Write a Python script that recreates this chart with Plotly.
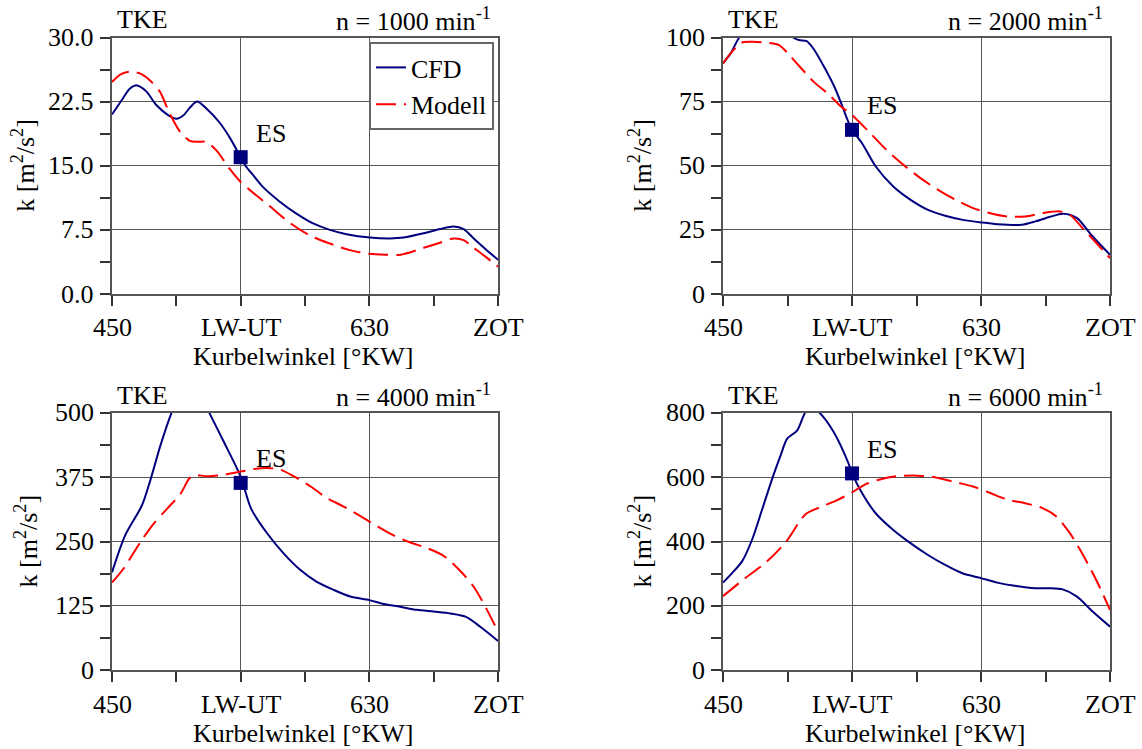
import plotly.graph_objects as go

# ---------------- data ----------------
x_tickvals = [450, 540, 630, 720]
x_ticktext = ["450", "LW-UT", "630", "ZOT"]
x_minorvals = [495, 585, 675]

speeds = ["1000", "2000", "4000", "6000"]

y_tickvals = [[0, 7.5, 15, 22.5, 30], [0, 25, 50, 75, 100], [0, 125, 250, 375, 500], [0, 200, 400, 600, 800]]
y_ticktext = [["0.0", "7.5", "15.0", "22.5", "30.0"], ["0", "25", "50", "75", "100"],
              ["0", "125", "250", "375", "500"], ["0", "200", "400", "600", "800"]]
y_minorvals = [[3.75, 11.25, 18.75, 26.25], [12.5, 37.5, 62.5, 87.5],
               [62.5, 187.5, 312.5, 437.5], [100, 300, 500, 700]]

cfd_1000_x = [450, 457.7, 462.4, 467.5, 474, 481, 489.5, 495, 500, 505, 509.6, 516, 525.5, 532.7, 540, 544, 549, 555.7, 567.4, 579, 590.7, 602.4, 614, 630.5, 644.5, 654, 668, 679.5, 689, 696, 703, 711, 720]
cfd_1000_y = [21.0, 22.9, 24.0, 24.4, 23.7, 22.1, 20.9, 20.5, 20.9, 21.9, 22.5, 21.7, 20.0, 18.2, 16.0, 14.85, 13.85, 12.5, 10.8, 9.4, 8.25, 7.5, 7.0, 6.6, 6.5, 6.6, 7.1, 7.6, 7.9, 7.6, 6.5, 5.3, 4.0]
mod_1000_x = [450, 456, 462.4, 469.5, 476.4, 483.4, 490.4, 497.5, 504.5, 510, 516, 523, 532.5, 540, 549, 560.8, 574.9, 588.9, 602.4, 617, 630, 642, 652, 668, 679.5, 689, 696, 703, 711, 720]
mod_1000_y = [24.8, 25.7, 26.0, 25.8, 25.0, 23.7, 21.1, 19.0, 17.9, 17.8, 17.8, 16.8, 14.6, 13.1, 11.8, 10.2, 8.25, 6.8, 5.9, 5.1, 4.7, 4.6, 4.6, 5.4, 6.0, 6.5, 6.3, 5.4, 4.4, 3.2]

cfd_2000_x = [450, 455.3, 461.4, 470, 480, 490, 499, 503, 508.4, 513, 520.5, 527.7, 532.5, 536, 540, 547, 556.6, 568.8, 580.9, 593, 605, 617.3, 630, 641.4, 658.4, 668, 677.7, 687.4, 697, 706.8, 720]
cfd_2000_y = [89.9, 93.8, 100, 105, 107, 105, 100, 99.0, 98.6, 95.7, 88.6, 80.8, 74.3, 69.1, 64.0, 58.8, 49.7, 41.9, 36.7, 32.8, 30.5, 28.9, 27.9, 27.2, 27.0, 28.3, 30.0, 31.3, 29.6, 23.1, 15.3]
mod_2000_x = [450, 455.3, 462.6, 469.8, 481.9, 489.1, 496.4, 503.6, 513.3, 523, 532.5, 540, 551.7, 564, 576, 588, 600, 612.4, 624.4, 636.5, 648.6, 660.7, 672.8, 685, 692, 701.9, 711.6, 720]
mod_2000_y = [89.9, 93.8, 97.9, 98.3, 97.9, 97.0, 93.1, 88.6, 82.7, 78.2, 73.0, 69.8, 63.3, 56.2, 50.3, 45.1, 40.6, 36.7, 33.5, 31.5, 30.2, 30.2, 31.5, 32.2, 30.9, 25.0, 19.2, 14.0]

cfd_4000_x = [450, 459.2, 470.9, 476.8, 483.9, 492, 498, 505, 511, 517.6, 528.2, 540, 547.3, 558.5, 570, 581.6, 593, 605, 616.7, 630, 640, 651.6, 663, 675, 686.6, 698, 707.6, 720]
cfd_4000_y = [190, 262, 320, 369, 437, 503, 540, 555, 540, 503, 444, 376, 314, 266, 227, 195, 172, 156, 143, 136, 128.6, 123, 117, 113.6, 110, 103, 84, 56.5]
mod_4000_x = [450, 458, 469.9, 479.2, 488.6, 498, 503.9, 507.4, 516.8, 528.5, 540, 549, 558.5, 567.6, 577, 589, 600, 612, 623.5, 635.4, 647, 658.8, 670.5, 682, 694, 703, 712.3, 720]
mod_4000_y = [170, 197, 249, 285, 314, 343, 372, 379, 377, 380, 386, 391, 393, 390, 377, 357, 335, 318, 300, 280, 262, 248, 237, 222, 191.6, 162, 117, 74.7]

cfd_6000_x = [450, 456, 463.4, 470.4, 477.4, 484.3, 490.2, 494.8, 501.8, 507.6, 512, 516.8, 527.2, 537.7, 540, 547, 556.5, 568.8, 580.8, 593, 605, 617, 630, 641.4, 653.5, 668, 677.5, 687, 697, 706.7, 720]
cfd_6000_y = [272, 300, 339, 407, 501, 595, 668, 720, 746, 803, 815, 803, 741, 642, 613, 551, 488, 436, 395, 358, 327, 301, 286, 272, 262, 254.5, 254.5, 251, 228.6, 187, 135]
mod_6000_x = [450, 465.8, 479.7, 493.6, 507.6, 517.3, 528.9, 540, 549, 558.8, 571, 585.5, 597.7, 609.7, 624.4, 636.5, 648.6, 660.8, 672.9, 682.5, 692, 701.8, 711.5, 720]
mod_6000_y = [230, 287, 334, 397, 485, 506, 527, 553, 577, 592, 603, 605, 600, 587, 571, 551, 530, 519, 504, 478, 426, 353, 270, 187]

es_x = [540, 540, 540, 540]
es_y = [16.0, 64.0, 364, 612]

cfd_x = [cfd_1000_x, cfd_2000_x, cfd_4000_x, cfd_6000_x]
cfd_y = [cfd_1000_y, cfd_2000_y, cfd_4000_y, cfd_6000_y]
mod_x = [mod_1000_x, mod_2000_x, mod_4000_x, mod_6000_x]
mod_y = [mod_1000_y, mod_2000_y, mod_4000_y, mod_6000_y]

# ---------------- layout geometry ----------------
W, H = 1142, 749
FONT = "Times New Roman"
FS = 26
NAVY = "#00007f"
RED = "#ff0000"
GRID = "#555555"
TXT = dict(family=FONT, size=FS, color="#000")

plot_px = [  # left, right, top, bottom in pixels
    (112, 498, 37.5, 294),
    (723, 1110, 37.5, 294),
    (112, 498, 413, 670),
    (723, 1110, 413, 670),
]

fig = go.Figure()
annotations = []
layout_axes = {}

for i in range(4):
    L, R, T, B = plot_px[i]
    xa = "x" if i == 0 else f"x{i+1}"
    ya = "y" if i == 0 else f"y{i+1}"
    fig.add_trace(go.Scatter(
        x=cfd_x[i], y=cfd_y[i], mode="lines", name="CFD",
        line=dict(color=NAVY, width=2, shape="spline", smoothing=0.8),
        xaxis=xa, yaxis=ya, showlegend=(i == 0), legendgroup="cfd"))
    fig.add_trace(go.Scatter(
        x=mod_x[i], y=mod_y[i], mode="lines", name="Modell",
        line=dict(color=RED, width=2, dash="20px,8px", shape="spline", smoothing=0.8),
        xaxis=xa, yaxis=ya, showlegend=(i == 0), legendgroup="mod"))
    fig.add_trace(go.Scatter(
        x=[es_x[i]], y=[es_y[i]], mode="markers", name="ES",
        marker=dict(symbol="square", size=14, color=NAVY),
        xaxis=xa, yaxis=ya, showlegend=False, cliponaxis=False))

    xkey = "xaxis" if i == 0 else f"xaxis{i+1}"
    ykey = "yaxis" if i == 0 else f"yaxis{i+1}"
    layout_axes[xkey] = dict(
        domain=[L / W, R / W], anchor=ya, range=[450, 720], automargin=False,
        tickmode="array", tickvals=x_tickvals, showticklabels=False,
        ticks="outside", ticklen=10, tickwidth=1.5, tickcolor="#333",
        minor=dict(ticks="outside", ticklen=10, tickwidth=1.5, tickcolor="#333",
                   tickmode="array", tickvals=x_minorvals, showgrid=False),
        showgrid=True, gridcolor=GRID, gridwidth=1,
        showline=True, linecolor=GRID, linewidth=1.5, mirror=True,
        zeroline=False,
    )
    layout_axes[ykey] = dict(
        domain=[1 - B / H, 1 - T / H], anchor=xa, range=[y_tickvals[i][0], y_tickvals[i][-1]],
        automargin=False, tickmode="array", tickvals=y_tickvals[i], showticklabels=False,
        ticks="outside", ticklen=10, tickwidth=1.5, tickcolor="#333",
        minor=dict(ticks="outside", ticklen=10, tickwidth=1.5, tickcolor="#333",
                   tickmode="array", tickvals=y_minorvals[i], showgrid=False),
        showgrid=True, gridcolor=GRID, gridwidth=1,
        showline=True, linecolor=GRID, linewidth=1.5, mirror=True,
        zeroline=False,
    )

    # tick labels (as text so the serif font is used)
    for v, t in zip(x_tickvals, x_ticktext):
        annotations.append(dict(xref=xa, yref="paper", x=v, y=1 - (B + 34) / H, text=t,
                                showarrow=False, xanchor="center", yanchor="middle", font=TXT))
    for v, t in zip(y_tickvals[i], y_ticktext[i]):
        annotations.append(dict(xref="paper", yref=ya, x=(L - 16) / W, y=v, text=t,
                                showarrow=False, xanchor="right", yanchor="middle", font=TXT))

    # TKE label and speed label
    annotations.append(dict(xref="paper", yref="paper", x=(L + 3) / W, y=1 - (T - 18) / H,
                            text="TKE", showarrow=False, xanchor="left", yanchor="middle", font=TXT))
    annotations.append(dict(xref="paper", yref="paper", x=(R - 5) / W, y=1 - (T - 18) / H,
                            text=f"n = {speeds[i]} min<sup>-1</sup>", showarrow=False,
                            xanchor="right", yanchor="middle", font=TXT))
    # ES label
    annotations.append(dict(xref=xa, yref=ya, x=es_x[i], y=es_y[i], text="ES", showarrow=False,
                            xanchor="left", yanchor="middle", xshift=13, yshift=24, font=TXT))
    # axis titles
    annotations.append(dict(xref="paper", yref="paper", x=((L + R) / 2 - 1.5) / W,
                            y=1 - (B + 63) / H, text="Kurbelwinkel [°KW]", showarrow=False,
                            xanchor="center", yanchor="middle", font=TXT))
    ytitle_x = [24, 641, 27, 641][i]
    annotations.append(dict(xref="paper", yref="paper", x=ytitle_x / W, y=1 - (T + B) / 2 / H,
                            text="k [m<sup>2</sup>/s<sup>2</sup>]", showarrow=False, textangle=-90,
                            xanchor="center", yanchor="middle", font=TXT))

fig.update_layout(
    width=W, height=H, autosize=False,
    margin=dict(l=0, r=0, t=0, b=0, pad=0, autoexpand=False),
    paper_bgcolor="white", plot_bgcolor="white",
    font=TXT,
    showlegend=True,
    legend=dict(x=494 / W, y=1 - 42 / H, xanchor="right", yanchor="top",
                bgcolor="white", bordercolor="#666", borderwidth=2,
                font=TXT, tracegroupgap=0, itemwidth=30),
    annotations=annotations,
    **layout_axes,
)

fig.write_html("out.html")
